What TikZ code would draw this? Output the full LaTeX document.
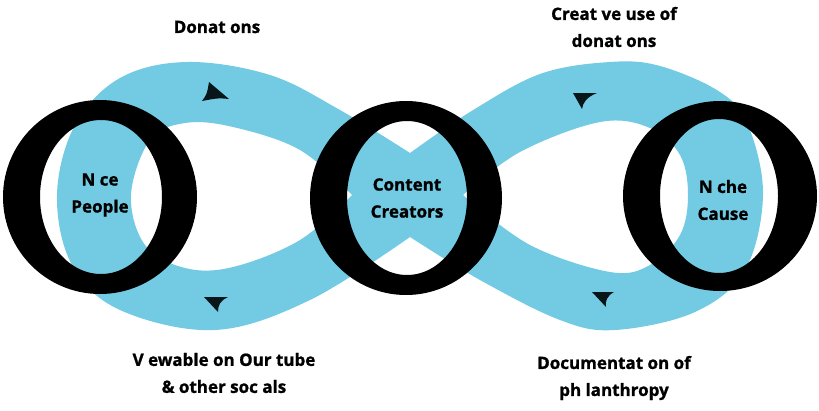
\documentclass[tikz,border=0pt]{standalone}
\usepackage{fontspec}
\setmainfont{Open Sans}[BoldFeatures={FakeBold=1.2}]
\definecolor{loopblue}{HTML}{72CBE3}
\definecolor{headink}{HTML}{08161A}
\begin{document}
\begin{tikzpicture}[x=1pt,y=-1pt,
  lbl/.style={font=\fontsize{17}{27}\selectfont\bfseries, align=center, text=black, inner sep=0pt},
  ring/.style={fill=black, even odd rule},
  headfill/.style={fill=headink}
]
\useasboundingbox (0,0) rectangle (819,410);

% the two blue loops (figure eight band)
\fill[loopblue, even odd rule]
  plot[smooth, tension=0.6] coordinates {(410,153) (340,110) (270,75) (187,62) (120,78) (75,125) (57,195) (72,265) (120,310) (215,330) (310,300) (410,237)}
  -- plot[smooth, tension=0.6] coordinates {(410,237) (480,280) (560,320) (615,330) (695,312) (745,270) (763,195) (748,125) (720,92) (660,66) (610,62) (540,74) (470,112) (410,153)}
  -- cycle
  plot[smooth, tension=0.6] coordinates {(352,195) (300,150) (233,127) (185,123) (150,140) (131,195) (145,245) (185,268) (233,267) (300,240) (352,195)} -- cycle
  plot[smooth, tension=0.6] coordinates {(463,195) (520,152) (600,122) (650,128) (680,155) (688,195) (680,235) (650,265) (610,272) (530,245) (463,195)} -- cycle;

% black O rings
\fill[ring] (100,197) ellipse [x radius=97pt, y radius=97pt] (101,197) ellipse [x radius=61pt, y radius=77pt];
\fill[ring] (406,198) ellipse [x radius=96pt, y radius=97pt] (407,198) ellipse [x radius=60pt, y radius=77pt];
\fill[ring] (720,196) ellipse [x radius=97pt, y radius=95pt] (719,196) ellipse [x radius=59pt, y radius=77pt];

% arrow heads on the band
\fill[headfill] (209,82) -- (229,99) .. controls (218,98) .. (202,101) .. controls (207,94) .. cycle;
\fill[headfill] (204,297) -- (228,297) .. controls (220,301) and (218,305) .. (218,312) -- cycle;
\fill[headfill] (573,93) -- (597,93) .. controls (587,97) and (583,102) .. (582,109) -- cycle;
\fill[headfill] (592,292) -- (614,292) .. controls (607,296) and (605,301) .. (606,307) -- cycle;

% labels
\node[lbl] (nice) at (100,195) {N ce\\People};
\node[lbl] (creators) at (407,198) {Content\\Creators};
\node[lbl] (niche) at (723,200) {N che\\Cause};
\node[lbl] (donations) at (217,27) {Donat ons};
\node[lbl] (creative) at (614,27) {Creat ve use of\\donat ons};
\node[lbl] (viewable) at (224,373) {V ewable on Our tube\\\& other soc als};
\node[lbl] (document) at (614,378) {Documentat on of\\ph lanthropy};
\end{tikzpicture}
\end{document}
